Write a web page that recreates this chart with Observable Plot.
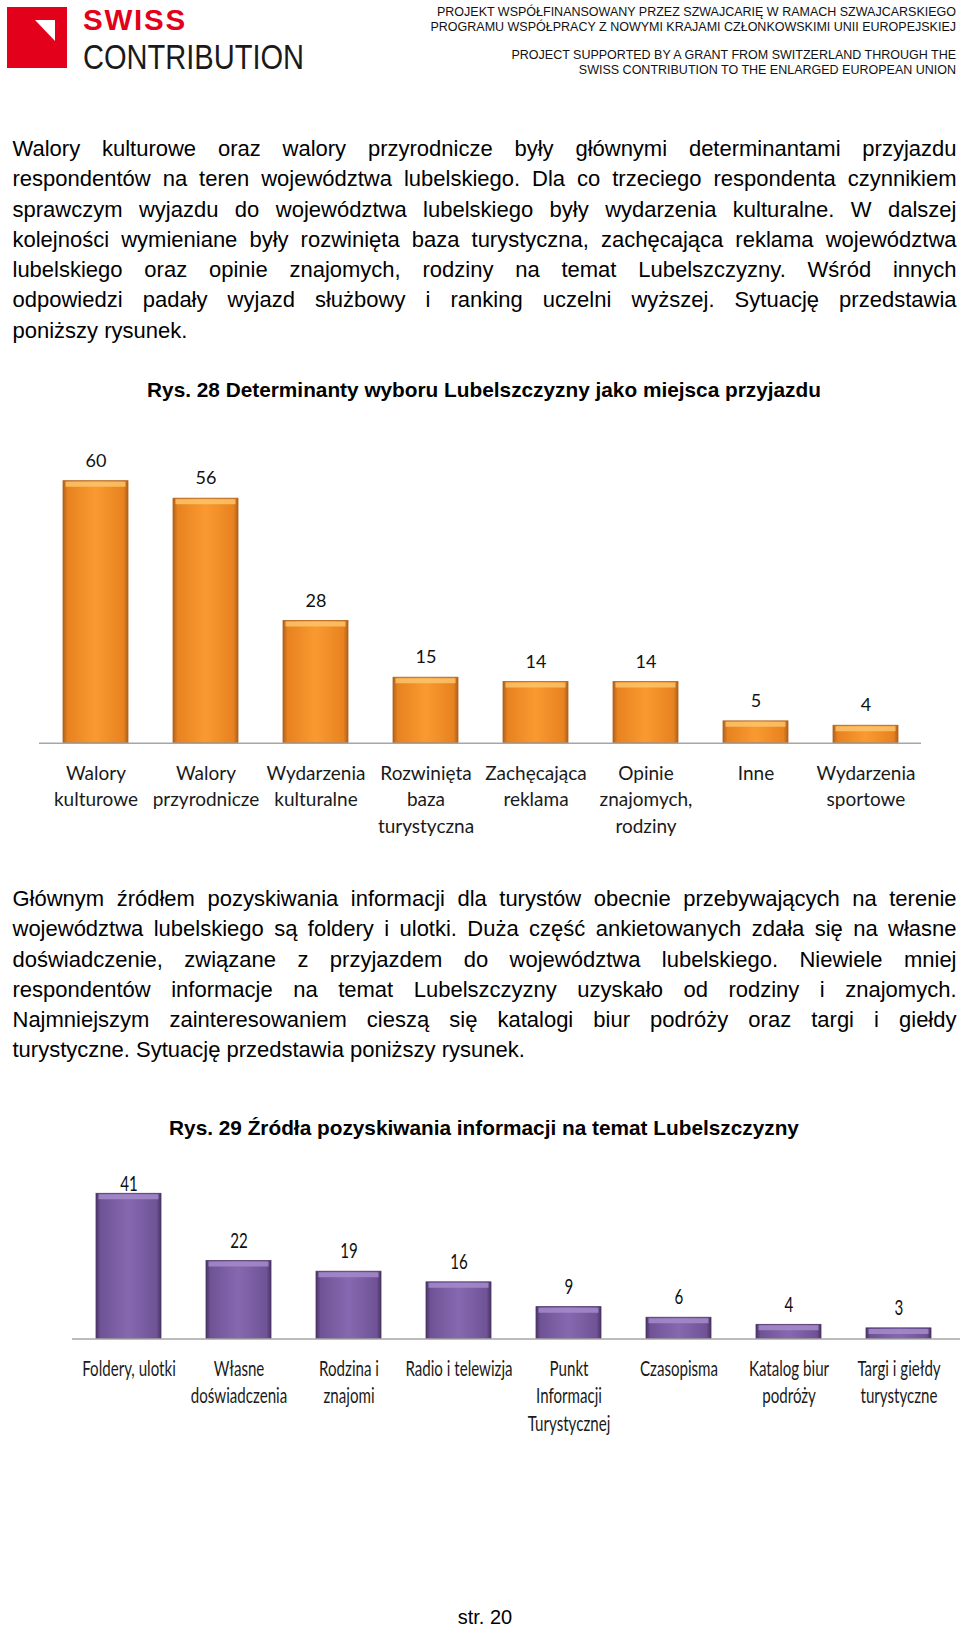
<!DOCTYPE html>
<html><head><meta charset="utf-8">
<script src="https://cdn.jsdelivr.net/npm/d3@7"></script>
<script src="https://cdn.jsdelivr.net/npm/@observablehq/plot@0.6"></script>
<style>
html,body{margin:0;padding:0;background:#fff}
body{width:960px;height:1628px;position:relative;overflow:hidden;font-family:"Liberation Sans",Arial,sans-serif;color:#000}
.abs{position:absolute}
.hdr{right:4px;text-align:right;font-size:12.5px;line-height:15px;white-space:nowrap;color:#111}
.para{left:12.5px;width:944px;font-size:22px}
.para div{height:30.3px;line-height:30.3px;text-align:justify;text-align-last:justify}
.para div.last{text-align:left;text-align-last:left}
.title{left:0;width:968px;text-align:center;font-weight:bold;font-size:20.8px;line-height:24px}
.chart{left:0}
</style>
</head><body>
<div class="abs" style="left:7px;top:7px;width:60px;height:61px;background:#E2001A"></div>
<svg class="abs" style="left:7px;top:7px" width="60" height="61"><polygon points="28,13 48,13 48,34" fill="#fff"/></svg>
<div class="abs" style="left:83px;top:5px;font-weight:bold;font-size:29.5px;line-height:29.5px;letter-spacing:1.8px;color:#E2001A">SWISS</div>
<div class="abs" style="left:83px;top:38.7px;font-size:35px;line-height:35px;color:#1a1a1a;transform:scaleX(0.83);transform-origin:0 0;white-space:nowrap">CONTRIBUTION</div>
<div class="abs hdr" style="top:5px">PROJEKT WSPÓŁFINANSOWANY PRZEZ SZWAJCARIĘ W RAMACH SZWAJCARSKIEGO</div>
<div class="abs hdr" style="top:20px">PROGRAMU WSPÓŁPRACY Z NOWYMI KRAJAMI CZŁONKOWSKIMI UNII EUROPEJSKIEJ</div>
<div class="abs hdr" style="top:47.6px">PROJECT SUPPORTED BY A GRANT FROM SWITZERLAND THROUGH THE</div>
<div class="abs hdr" style="top:62.6px">SWISS CONTRIBUTION TO THE ENLARGED EUROPEAN UNION</div>

<div class="abs para" style="top:134px">
<div>Walory kulturowe oraz walory przyrodnicze były głównymi determinantami przyjazdu</div>
<div>respondentów na teren województwa lubelskiego. Dla co trzeciego respondenta czynnikiem</div>
<div>sprawczym wyjazdu do województwa lubelskiego były wydarzenia kulturalne. W dalszej</div>
<div>kolejności wymieniane były rozwinięta baza turystyczna, zachęcająca reklama województwa</div>
<div>lubelskiego oraz opinie znajomych, rodziny na temat Lubelszczyzny. Wśród innych</div>
<div>odpowiedzi padały wyjazd służbowy i ranking uczelni wyższej. Sytuację przedstawia</div>
<div class="last">poniższy rysunek.</div>
</div>

<div class="abs title" style="top:378px">Rys. 28 Determinanty wyboru Lubelszczyzny jako miejsca przyjazdu</div>
<div class="abs chart" id="chart1" style="top:430px"></div>

<div class="abs para" style="top:884px">
<div>Głównym źródłem pozyskiwania informacji dla turystów obecnie przebywających na terenie</div>
<div>województwa lubelskiego są foldery i ulotki. Duża część ankietowanych zdała się na własne</div>
<div>doświadczenie, związane z przyjazdem do województwa lubelskiego. Niewiele mniej</div>
<div>respondentów informacje na temat Lubelszczyzny uzyskało od rodziny i znajomych.</div>
<div>Najmniejszym zainteresowaniem cieszą się katalogi biur podróży oraz targi i giełdy</div>
<div class="last">turystyczne. Sytuację przedstawia poniższy rysunek.</div>
</div>

<div class="abs title" style="top:1116px">Rys. 29 Źródła pozyskiwania informacji na temat Lubelszczyzny</div>
<div class="abs chart" id="chart2" style="top:1150px"></div>

<div class="abs" style="left:0;width:970px;text-align:center;top:1605px;font-size:20px;line-height:24px">str. 20</div>

<script>
// ---- Data ----
const categories1 = ["Walory\nkulturowe", "Walory\nprzyrodnicze", "Wydarzenia\nkulturalne", "Rozwinięta\nbaza\nturystyczna", "Zachęcająca\nreklama", "Opinie\nznajomych,\nrodziny", "Inne", "Wydarzenia\nsportowe"];
const values1 = [60, 56, 28, 15, 14, 14, 5, 4];

const categories2 = ["Foldery, ulotki", "Własne\ndoświadczenia", "Rodzina i\nznajomi", "Radio i telewizja", "Punkt\nInformacji\nTurystycznej", "Czasopisma", "Katalog biur\npodróży", "Targi i giełdy\nturystyczne"];
const values2 = [41, 22, 19, 16, 9, 6, 4, 3];

function gradDefs(id, edge, mid, center) {
  return `<linearGradient id="${id}" x1="0" x2="1" y1="0" y2="0">
    <stop offset="0" stop-color="${edge}"/>
    <stop offset="0.07" stop-color="${mid}"/>
    <stop offset="0.5" stop-color="${center}"/>
    <stop offset="0.93" stop-color="${mid}"/>
    <stop offset="1" stop-color="${edge}"/>
  </linearGradient>`;
}

function barChart(o) {
  const data = o.cats.map((c, i) => ({cat: c, value: o.vals[i]}));
  const max = d3.max(o.vals);
  const svg = Plot.plot({
    width: 960,
    height: o.height,
    marginLeft: o.mL, marginRight: o.mR, marginTop: o.mT, marginBottom: o.mB,
    style: {fontFamily: "Lato, 'Open Sans', sans-serif", fontSize: o.fontSize + "px", color: "#1a1a1a", background: "transparent", overflow: "visible"},
    x: {domain: o.cats, paddingInner: 0.41, paddingOuter: 0.205, axis: null},
    y: {domain: [0, max], axis: null},
    marks: [
      Plot.barY(data, {x: "cat", y: "value", fill: `url(#${o.gid})`, stroke: o.edge, strokeWidth: 0.8}),
      Plot.tickY(data, {x: "cat", y: "value", stroke: o.hl, strokeOpacity: 0.85, strokeWidth: 5, dy: 3, insetLeft: 2.5, insetRight: 2.5}),
      Plot.ruleY([0], {stroke: "#a6a6a6", strokeWidth: 1.6, insetRight: o.ruleInsetRight || 0}),
      Plot.text(data.filter(d => d.value !== max), {x: "cat", y: "value", text: d => String(d.value), dy: -20, fontSize: o.valSize, fill: "#111"}),
      Plot.text(data.filter(d => d.value === max), {x: "cat", y: "value", text: d => String(d.value), dy: o.maxDy, fontSize: o.valSize, fill: "#111"}),
      Plot.axisX({tickSize: 0, tickPadding: o.tickPadding, lineHeight: o.lineHeight, fontSize: o.fontSize, label: null})
    ]
  });
  d3.select(svg).insert("defs", ":first-child").html(gradDefs(o.gid, o.edge, o.mid, o.center));
  return svg;
}

// horizontally condense every text of a chart around its own centre (after it is in the page)
function squeezeTexts(svg, s) {
  const sr = svg.getBoundingClientRect();
  svg.querySelectorAll("text").forEach(t => {
    const r = t.getBoundingClientRect();
    const parent = t.parentNode;
    const ctm = parent.getCTM();
    const cx = (r.left + r.width / 2) - sr.left - (ctm ? ctm.e : 0);
    const g = document.createElementNS("http://www.w3.org/2000/svg", "g");
    g.setAttribute("transform", `translate(${cx},0) scale(${s},1) translate(${-cx},0)`);
    parent.insertBefore(g, t);
    g.appendChild(t);
  });
}

document.getElementById("chart1").append(barChart({
  cats: categories1, vals: values1, gid: "gOrange",
  edge: "#b0611c", mid: "#e8821f", center: "#f99a30", hl: "#fcc468",
  height: 400, mL: 39, mR: 39, mT: 50.7, mB: 87.3,
  fontSize: 19, lineHeight: 1.39, tickPadding: 18, valSize: 18, maxDy: -20
}));

const svg2 = barChart({
  cats: categories2, vals: values2, gid: "gPurple",
  edge: "#4a3466", mid: "#6f5396", center: "#8668b0", hl: "#a58bcb",
  height: 300, mL: 72, mR: 6, mT: 43.3, mB: 111.5, ruleInsetRight: -6,
  fontSize: 21, lineHeight: 1.31, tickPadding: 17, valSize: 21, maxDy: -10
});
document.getElementById("chart2").append(svg2);
squeezeTexts(svg2, 0.72);
</script>
</body></html>
